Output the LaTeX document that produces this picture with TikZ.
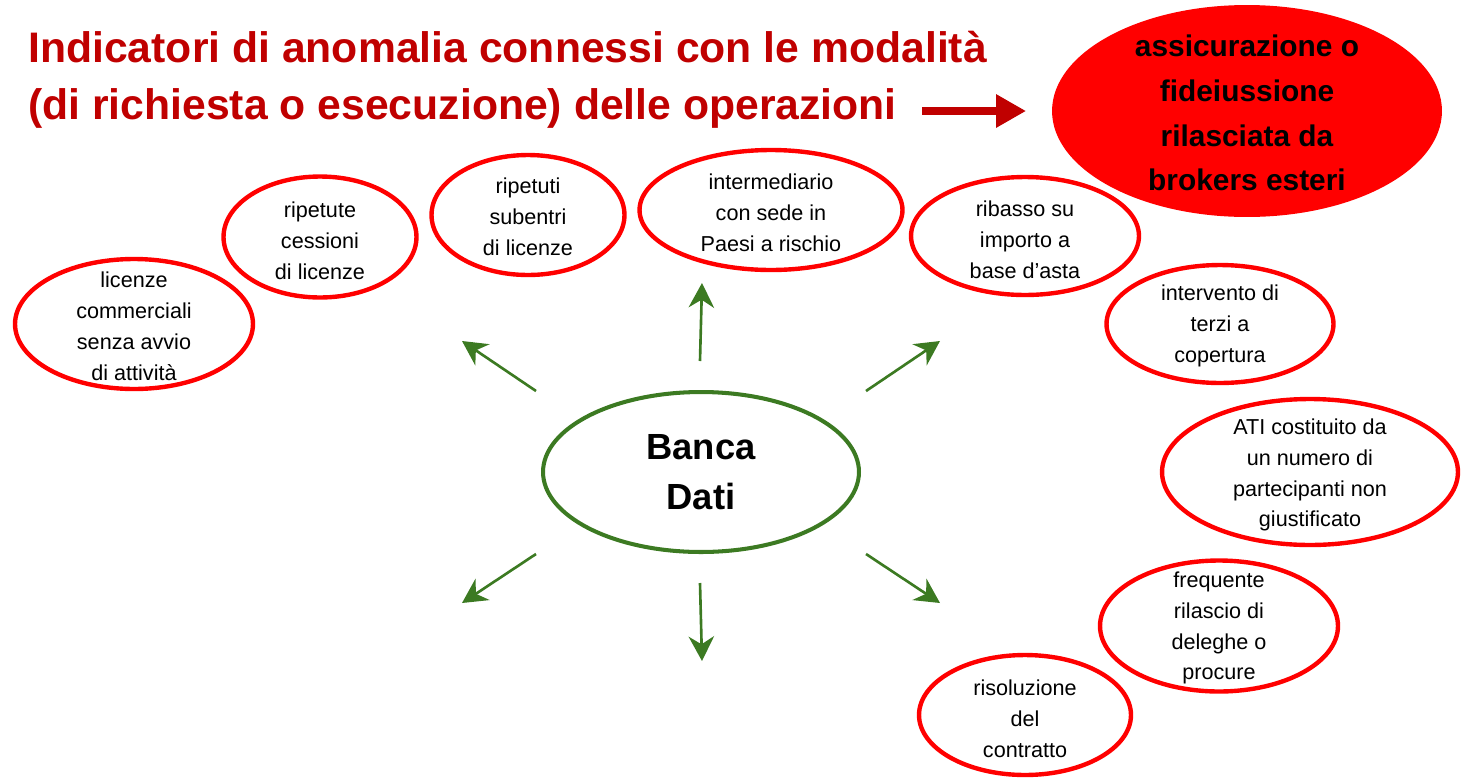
\documentclass[tikz,border=0pt]{standalone}
\usepackage{fontspec}
\setmainfont{Liberation Sans}
\usetikzlibrary{arrows.meta,shapes.geometric}
\definecolor{titlered}{RGB}{192,0,0}
\definecolor{dbgreen}{RGB}{60,122,34}

\begin{document}
\begin{tikzpicture}[x=0.02cm,y=-0.02cm,
    ind/.style 2 args={ellipse,draw=red,line width=2.5pt,inner sep=0pt,
      minimum width=#1cm,minimum height=#2cm},
    txt/.style={align=center,inner sep=0pt,font=\fontsize{12.3}{17.6}\selectfont},
    title/.style={anchor=base west,inner sep=0pt,titlered,
      font=\fontsize{24.3}{28}\selectfont\bfseries},
    out_arrow/.style={
      -{Stealth[length=14pt,width=14.5pt,inset=4.5pt]},
      line width=1.5pt,
      dbgreen}]

  \useasboundingbox (0,0) rectangle (1464,778);

  % titolo
  \path (28,62) node(tit1) [title] {Indicatori di anomalia connessi con le modalità}
  (28,119) node(tit2) [title] {(di richiesta o esecuzione) delle operazioni};
  \coordinate (ta) at (922,111);
  \coordinate (tb) at (1026,111);
  \draw[titlered,line width=4pt,-{Triangle[length=17pt,width=18pt]}] (ta) -- (tb);

  \path (1247,111) node(ass) [ellipse,fill=red,inner sep=0pt,
      minimum width=7.8cm,minimum height=4.24cm] {}
  (1247,113) node(ass_t) [align=center,inner sep=0pt,
      font=\fontsize{17}{25.5}\selectfont\bfseries]
      {assicurazione o\\fideiussione\\rilasciata da\\brokers esteri};

  % banca dati
  \path (701,472) node(banca) [ellipse,draw=dbgreen,line width=2.3pt,inner sep=0pt,
      minimum width=6.32cm,minimum height=3.2cm] {}
  (701,472) node(banca_t) [align=center,inner sep=0pt,
      font=\fontsize{20.7}{28.3}\selectfont\bfseries] {Banca\\Dati};

  % indicatori
  \path (134,324) node(lic) [ind={4.76}{2.6}] {}
  (134,326) node(lic_t) [txt] {licenze\\commerciali\\senza avvio\\di attività}
  (320,237) node(ces) [ind={3.86}{2.42}] {}
  (320,241) node(ces_t) [txt] {ripetute\\cessioni\\di licenze}
  (528,215) node(sub) [ind={3.86}{2.4}] {}
  (528,217) node(sub_t) [txt] {ripetuti\\subentri\\di licenze}
  (771,210) node(int) [ind={5.26}{2.4}] {}
  (771,213) node(int_t) [txt] {intermediario\\con sede in\\Paesi a rischio}
  (1025,236) node(rib) [ind={4.56}{2.36}] {}
  (1025,240) node(rib_t) [txt] {ribasso su\\importo a\\base d’asta}
  (1220,324) node(ter) [ind={4.54}{2.36}] {}
  (1220,326) node(ter_t) [txt] {intervento di\\terzi a\\copertura}
  (1310,472) node(ati) [ind={5.92}{2.92}] {}
  (1310,475) node(ati_t) [txt] {ATI costituito da\\un numero di\\partecipanti non\\giustificato}
  (1219,626) node(fre) [ind={4.76}{2.62}] {}
  (1219,628) node(fre_t) [txt] {frequente\\rilascio di\\deleghe o\\procure}
  (1025,715) node(ris) [ind={4.24}{2.4}] {}
  (1025,719) node(ris_t) [txt] {risoluzione\\del\\contratto};

  % frecce
  \coordinate (ul0) at (536,391);  \coordinate (ul1) at (462,341);
  \coordinate (u0) at (700,361);   \coordinate (u1) at (702,283);
  \coordinate (ur0) at (866,391);  \coordinate (ur1) at (940,341);
  \coordinate (dl0) at (536,554);  \coordinate (dl1) at (462,603);
  \coordinate (d0) at (700,583);   \coordinate (d1) at (702,661);
  \coordinate (dr0) at (866,554);  \coordinate (dr1) at (940,603);
  \draw[out_arrow] (ul0) -- (ul1);
  \draw[out_arrow] (u0) -- (u1);
  \draw[out_arrow] (ur0) -- (ur1);
  \draw[out_arrow] (dl0) -- (dl1);
  \draw[out_arrow] (d0) -- (d1);
  \draw[out_arrow] (dr0) -- (dr1);

\end{tikzpicture}
\end{document}
